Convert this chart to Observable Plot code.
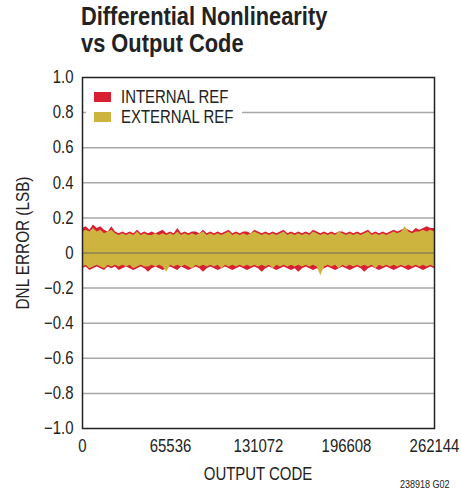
<!DOCTYPE html>
<html>
<head>
<meta charset="utf-8">
<script src="https://cdn.jsdelivr.net/npm/d3@7"></script>
<script src="https://cdn.jsdelivr.net/npm/@observablehq/plot@0.6"></script>
<style>
  html, body { margin: 0; padding: 0; background: #fff; }
  #wrap { position: relative; width: 461px; height: 495px; font-family: "Liberation Sans", Arial, sans-serif; color: #222; overflow: hidden; }
  #title { position: absolute; left: 81px; top: 3px; font-size: 26px; font-weight: bold; line-height: 27px; color: #222; transform: scaleX(0.84); transform-origin: left top; white-space: nowrap; }
  #ylab { position: absolute; left: 23px; top: 243px; transform: translate(-50%, -50%) rotate(-90deg) scaleX(0.85); font-size: 18px; white-space: nowrap; }
  #xlab { position: absolute; left: 258px; top: 464px; transform: translateX(-50%) scaleX(0.83); font-size: 18px; white-space: nowrap; }
  #note { position: absolute; right: 11px; top: 478px; font-size: 11px; white-space: nowrap; transform: scaleX(0.82); transform-origin: right top; }
  #legend { position: absolute; left: 86px; top: 87px; width: 156px; height: 40px; background: #fff; font-size: 18px; }
  .row { position: absolute; left: 8px; height: 20px; display: flex; align-items: center; white-space: nowrap; }
  .sw { width: 17px; height: 10px; margin-right: 10px; flex: none; }
  .row span { display: inline-block; transform: scaleX(0.83); transform-origin: left center; }
</style>
</head>
<body>
<div id="wrap">
  <div id="chart"></div>
  <div id="title">Differential Nonlinearity<br>vs Output Code</div>
  <div id="ylab">DNL ERROR (LSB)</div>
  <div id="xlab">OUTPUT CODE</div>
  <div id="note">238918 G02</div>
  <div id="legend"></div>
</div>
<script>
const seriesNames = ["INTERNAL REF", "EXTERNAL REF"];
const seriesColors = ["#d91f32", "#cdb43e"];
const xTicks = [0, 65536, 131072, 196608, 262144];
const yTicks = [-1, -0.8, -0.6, -0.4, -0.2, 0, 0.2, 0.4, 0.6, 0.8, 1];
const maxCode = 262144;

// envelope of the DNL error, sampled evenly across the code range (LSB)
const internalUpper = [0.14,0.15,0.13,0.16,0.14,0.15,0.13,0.12,0.15,0.12,0.11,0.12,0.11,0.12,0.11,0.13,0.11,0.12,0.11,0.12,0.11,0.12,0.13,0.11,0.12,0.11,0.14,0.11,0.12,0.11,0.12,0.12,0.11,0.13,0.11,0.12,0.11,0.12,0.11,0.12,0.13,0.11,0.12,0.11,0.12,0.12,0.11,0.13,0.12,0.11,0.12,0.11,0.12,0.11,0.12,0.13,0.11,0.12,0.11,0.12,0.11,0.12,0.11,0.13,0.12,0.11,0.12,0.11,0.12,0.11,0.12,0.12,0.11,0.12,0.11,0.12,0.11,0.12,0.13,0.11,0.12,0.11,0.12,0.11,0.12,0.13,0.12,0.13,0.14,0.13,0.12,0.14,0.13,0.14,0.15,0.14,0.14];
const externalUpper = [0.12,0.13,0.12,0.14,0.12,0.13,0.11,0.12,0.13,0.11,0.10,0.11,0.10,0.11,0.10,0.12,0.10,0.11,0.10,0.10,0.11,0.10,0.11,0.10,0.11,0.10,0.12,0.10,0.11,0.10,0.11,0.10,0.11,0.12,0.10,0.11,0.10,0.11,0.10,0.11,0.12,0.10,0.11,0.10,0.11,0.10,0.11,0.12,0.11,0.10,0.11,0.10,0.11,0.10,0.11,0.12,0.10,0.11,0.10,0.11,0.10,0.11,0.10,0.12,0.11,0.10,0.11,0.10,0.11,0.10,0.12,0.11,0.10,0.11,0.10,0.11,0.10,0.11,0.12,0.10,0.11,0.10,0.11,0.10,0.11,0.12,0.11,0.12,0.15,0.12,0.11,0.12,0.12,0.13,0.12,0.13,0.12];
const internalLower = [-0.09,-0.08,-0.10,-0.09,-0.08,-0.09,-0.10,-0.08,-0.09,-0.08,-0.10,-0.09,-0.08,-0.09,-0.10,-0.09,-0.08,-0.09,-0.11,-0.09,-0.08,-0.09,-0.10,-0.09,-0.08,-0.09,-0.10,-0.08,-0.09,-0.10,-0.09,-0.08,-0.09,-0.11,-0.09,-0.08,-0.09,-0.10,-0.09,-0.08,-0.09,-0.10,-0.09,-0.08,-0.09,-0.10,-0.09,-0.08,-0.09,-0.11,-0.09,-0.08,-0.09,-0.10,-0.09,-0.08,-0.09,-0.10,-0.09,-0.11,-0.09,-0.08,-0.09,-0.10,-0.09,-0.10,-0.09,-0.08,-0.09,-0.10,-0.09,-0.08,-0.09,-0.10,-0.09,-0.08,-0.09,-0.11,-0.09,-0.08,-0.09,-0.10,-0.09,-0.08,-0.09,-0.10,-0.09,-0.08,-0.09,-0.10,-0.09,-0.08,-0.09,-0.10,-0.09,-0.08,-0.09];
const externalLower = [-0.08,-0.07,-0.09,-0.08,-0.07,-0.08,-0.09,-0.07,-0.08,-0.07,-0.08,-0.07,-0.08,-0.07,-0.09,-0.08,-0.07,-0.08,-0.08,-0.07,-0.08,-0.07,-0.08,-0.11,-0.07,-0.08,-0.07,-0.08,-0.07,-0.08,-0.09,-0.07,-0.08,-0.07,-0.08,-0.07,-0.08,-0.07,-0.09,-0.07,-0.08,-0.07,-0.08,-0.07,-0.08,-0.07,-0.08,-0.07,-0.08,-0.07,-0.08,-0.07,-0.09,-0.07,-0.08,-0.07,-0.08,-0.07,-0.08,-0.07,-0.08,-0.07,-0.08,-0.07,-0.08,-0.13,-0.08,-0.07,-0.08,-0.07,-0.09,-0.07,-0.08,-0.07,-0.08,-0.07,-0.08,-0.07,-0.08,-0.07,-0.09,-0.07,-0.08,-0.07,-0.08,-0.07,-0.08,-0.07,-0.08,-0.07,-0.08,-0.07,-0.08,-0.07,-0.08,-0.07,-0.08];

function band(upper, lower) {
  const n = Math.min(upper.length, lower.length);
  return upper.slice(0, n).map((u, i) => ({code: i * maxCode / (n - 1), hi: u, lo: lower[i]}));
}
const internalData = band(internalUpper, internalLower);
const externalData = band(externalUpper, externalLower);

const fmtY = d => d === 0 ? "0" : d3.format(".1f")(d);

const chart = Plot.plot({
  width: 461,
  height: 495,
  marginTop: 77,
  marginLeft: 82,
  marginRight: 27,
  marginBottom: 67,
  style: {fontFamily: "'Liberation Sans', Arial, sans-serif", fontSize: "18px", color: "#222", background: "transparent", overflow: "visible"},
  x: {domain: [0, maxCode], ticks: xTicks, tickFormat: d => String(d), tickSize: 0, tickPadding: 11, label: null},
  y: {domain: [-1, 1], ticks: yTicks, tickFormat: fmtY, tickSize: 0, tickPadding: 9, label: null},
  marks: [
    Plot.ruleY(yTicks.filter(d => Math.abs(d) < 1), {stroke: "#a8a8a8", strokeWidth: 1.5}),
    Plot.areaY(internalData, {x: "code", y1: "lo", y2: "hi", fill: seriesColors[0]}),
    Plot.areaY(externalData, {x: "code", y1: "lo", y2: "hi", fill: seriesColors[1]}),
    Plot.ruleY([0], {stroke: "#8a8054", strokeWidth: 1.5}),
    Plot.frame({stroke: "#222", strokeWidth: 1.5})
  ]
});
// condense the tick labels horizontally (narrow sans look), scaling about each label's anchor
chart.querySelectorAll('g[aria-label$="tick label"] text').forEach(t => {
  const x = t.getAttribute("x") || 0;
  const tr = t.getAttribute("transform") || "";
  t.setAttribute("transform", `${tr} translate(${x},0) scale(0.83,1) translate(${-x},0)`);
});
document.getElementById("chart").appendChild(chart);

const legend = document.getElementById("legend");
seriesNames.forEach((name, i) => {
  const row = document.createElement("div");
  row.className = "row";
  row.style.top = (i * 20) + "px";
  row.innerHTML = `<div class="sw" style="background:${seriesColors[i]}"></div><span>${name}</span>`;
  legend.appendChild(row);
});
</script>
</body>
</html>
